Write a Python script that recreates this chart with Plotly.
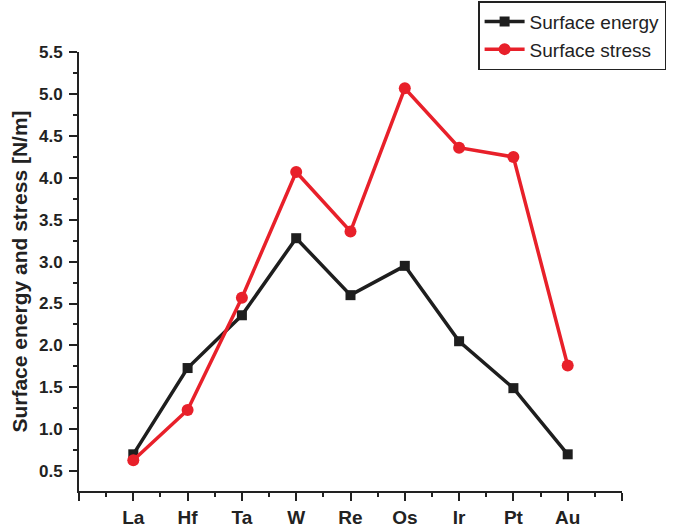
import plotly.graph_objects as go

elements = ["La", "Hf", "Ta", "W", "Re", "Os", "Ir", "Pt", "Au"]
surface_energy = [0.70, 1.73, 2.36, 3.28, 2.60, 2.95, 2.05, 1.49, 0.70]
surface_stress = [0.63, 1.23, 2.57, 4.07, 3.36, 5.07, 4.36, 4.25, 1.76]

xpos = list(range(len(elements)))
BLACK = "#1e1e1e"
RED = "#e8202a"
FONT = "Liberation Sans, Arial, sans-serif"

fig = go.Figure()
fig.add_trace(go.Scatter(
    x=xpos, y=surface_energy, name="Surface energy", mode="lines+markers",
    line=dict(color=BLACK, width=3.5),
    marker=dict(symbol="square", size=10, color=BLACK),
))
fig.add_trace(go.Scatter(
    x=xpos, y=surface_stress, name="Surface stress", mode="lines+markers",
    line=dict(color=RED, width=3.5),
    marker=dict(symbol="circle", size=12, color=RED),
))

fig.update_layout(
    width=679, height=528,
    margin=dict(l=79, r=57, t=52, b=37, autoexpand=False),
    paper_bgcolor="white", plot_bgcolor="white",
    font=dict(family=FONT, color="#222222"),
    showlegend=True,
    legend=dict(
        x=0.735, y=1.116, xanchor="left", yanchor="top",
        bordercolor="#222222", borderwidth=1.5, bgcolor="white",
        font=dict(family=FONT, size=19, color="#222222"),
        tracegroupgap=0, itemwidth=40,
    ),
    xaxis=dict(
        range=[-1, 9],
        tickmode="array",
        tickvals=[-1] + xpos + [9],
        ticktext=[""] + elements + [""],
        ticks="outside", ticklen=8, tickwidth=2, tickcolor="#222222",
        showline=True, linewidth=2, linecolor="#222222",
        showgrid=False, zeroline=False, ticklabelstandoff=0,
        tickfont=dict(family=FONT, size=19, color="#222222", weight="bold"),
        minor=dict(tickmode="linear", tick0=-0.5, dtick=1, ticks="outside",
                   ticklen=4, tickwidth=2, tickcolor="#222222", showgrid=False),
    ),
    yaxis=dict(
        range=[0.262, 5.503],
        tickmode="linear", tick0=0.5, dtick=0.5, tickformat=".1f",
        ticks="outside", ticklen=8, tickwidth=2, tickcolor="#222222",
        showline=True, linewidth=2, linecolor="#222222",
        showgrid=False, zeroline=False, ticklabelstandoff=3,
        tickfont=dict(family=FONT, size=17, color="#222222", weight="bold"),
        title=dict(text="Surface energy and stress [N/m]",
                   font=dict(family=FONT, size=21, color="#222222", weight="bold"),
                   standoff=6),
        minor=dict(tickmode="linear", tick0=0.25, dtick=0.5, ticks="outside",
                   ticklen=4, tickwidth=2, tickcolor="#222222", showgrid=False),
    ),
)

fig.write_html("out.html")
